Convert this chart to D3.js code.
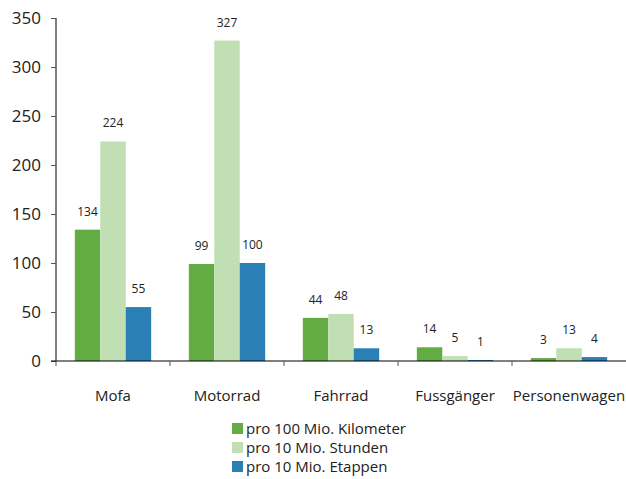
<!DOCTYPE html>
<html>
<head>
<meta charset="utf-8">
<script src="https://cdn.jsdelivr.net/npm/d3@7"></script>
<style>
  html, body { margin: 0; padding: 0; background: #fff; }
  svg text { font-family: "Open Sans", "Noto Sans", sans-serif; fill: #222; }
</style>
</head>
<body>
<svg id="chart" width="626" height="479"></svg>
<script>
// Categories, series and values
const categories = ["Mofa", "Motorrad", "Fahrrad", "Fussgänger", "Personenwagen"];
const seriesNames = ["pro 100 Mio. Kilometer", "pro 10 Mio. Stunden", "pro 10 Mio. Etappen"];
const seriesColors = ["#62ac43", "#c0dfb3", "#2a7fb4"];
const perKilometer = [134, 99, 44, 14, 3];
const perHours = [224, 327, 48, 5, 13];
const perStages = [55, 100, 13, 1, 4];
const yTicks = [0, 50, 100, 150, 200, 250, 300, 350];

const seriesValues = [perKilometer, perHours, perStages];

const svg = d3.select("#chart");
const plotLeft = 56, plotRight = 626, plotTop = 18, plotBottom = 361;

const x = d3.scaleBand().domain(categories).range([plotLeft, plotRight]).paddingInner(0).paddingOuter(0);
const xs = d3.scaleBand().domain(d3.range(seriesNames.length)).range([0, x.bandwidth()]).paddingInner(0).paddingOuter(0.74);
const y = d3.scaleLinear().domain([0, 350]).range([plotBottom, plotTop]);

// Bars with value labels
categories.forEach((cat, ci) => {
  const g = svg.append("g").attr("transform", `translate(${x(cat)},0)`);
  seriesValues.forEach((vals, si) => {
    const v = vals[ci];
    g.append("rect")
      .attr("x", xs(si))
      .attr("y", y(v))
      .attr("width", xs.bandwidth())
      .attr("height", y(0) - y(v))
      .attr("fill", seriesColors[si]);
    g.append("text")
      .attr("x", xs(si) + xs.bandwidth() / 2)
      .attr("y", y(v) - 14)
      .attr("text-anchor", "middle")
      .attr("font-size", 12)
      .text(v);
  });
});

// Y axis
const yAxis = svg.append("g")
  .attr("transform", `translate(${plotLeft},0)`)
  .call(d3.axisLeft(y).tickValues(yTicks).tickSize(5).tickPadding(10).tickFormat(d3.format("d")));
yAxis.select(".domain").attr("stroke", "#000").attr("d", `M0,${plotTop}V${plotBottom}`);
yAxis.selectAll(".tick line").attr("stroke", "#555");
yAxis.selectAll(".tick text").attr("font-size", 17).attr("fill", "#222");

// X axis: ticks on category boundaries
const xAxisG = svg.append("g").attr("transform", `translate(0,${plotBottom})`);
xAxisG.append("line").attr("x1", plotLeft - 5).attr("x2", plotRight).attr("y1", 0).attr("y2", 0).attr("stroke", "#000");
const boundaries = categories.map(c => x(c));
xAxisG.selectAll("line.bt").data(boundaries).enter().append("line")
  .attr("class", "bt")
  .attr("x1", d => d).attr("x2", d => d)
  .attr("y1", 0).attr("y2", 5)
  .attr("stroke", "#555");
xAxisG.selectAll("text.cat").data(categories).enter().append("text")
  .attr("class", "cat")
  .attr("x", d => x(d) + x.bandwidth() / 2)
  .attr("y", 40)
  .attr("text-anchor", "middle")
  .attr("font-size", 15)
  .text(d => d);

// Legend
const legend = svg.append("g").attr("transform", "translate(232,423)");
seriesNames.forEach((name, i) => {
  const row = legend.append("g").attr("transform", `translate(0,${i * 19})`);
  row.append("rect").attr("x", 0).attr("y", 0).attr("width", 11).attr("height", 11).attr("fill", seriesColors[i]);
  row.append("text").attr("x", 14).attr("y", 11).attr("font-size", 15).text(name);
});
</script>
</body>
</html>
